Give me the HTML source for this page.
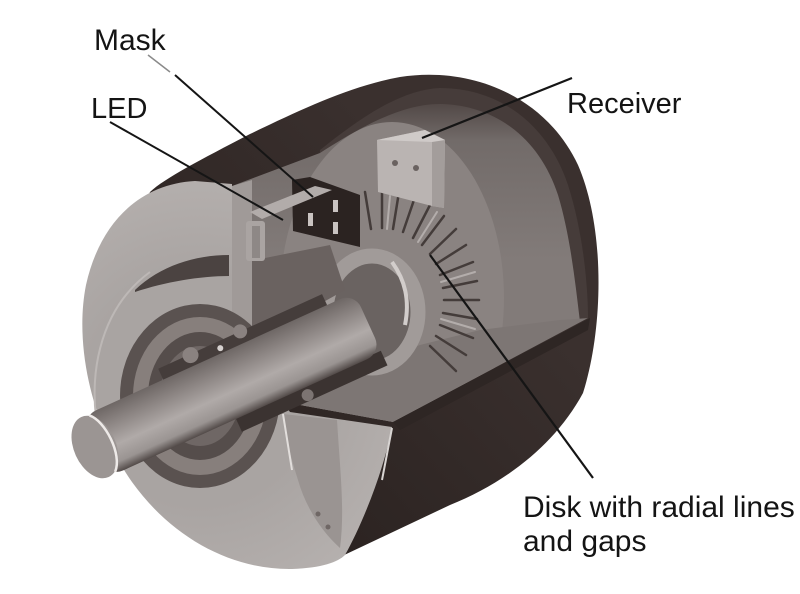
<!DOCTYPE html>
<html><head><meta charset="utf-8"><style>
html,body{margin:0;padding:0;background:#fff;}
svg{display:block;}
text{font-family:"Liberation Sans",Arial,sans-serif;fill:#141414;}
</style></head><body>
<svg width="800" height="594" viewBox="0 0 800 594" xmlns="http://www.w3.org/2000/svg">
<defs>
<linearGradient id="shaftG" x1="0" y1="-33" x2="0" y2="33" gradientUnits="userSpaceOnUse">
<stop offset="0" stop-color="#6e6765"/>
<stop offset="0.25" stop-color="#8a8381"/>
<stop offset="0.6" stop-color="#b0aaa8"/>
<stop offset="0.85" stop-color="#9a9492"/>
<stop offset="1" stop-color="#524a48"/>
</linearGradient>
<linearGradient id="intG" x1="0" y1="90" x2="0" y2="260" gradientUnits="userSpaceOnUse">
<stop offset="0" stop-color="#463c3a"/>
<stop offset="0.3" stop-color="#726b69"/>
<stop offset="1" stop-color="#827b79"/>
</linearGradient>
<radialGradient id="faceG" cx="200" cy="390" r="230" gradientUnits="userSpaceOnUse">
<stop offset="0.5" stop-color="#a9a4a2"/>
<stop offset="1" stop-color="#b6b1af"/>
</radialGradient>
<linearGradient id="shellG" x1="300" y1="560" x2="560" y2="330" gradientUnits="userSpaceOnUse">
<stop offset="0" stop-color="#2a2220"/>
<stop offset="1" stop-color="#3a302e"/>
</linearGradient>
<clipPath id="intClip">
<path d="M232,186 L320,150 C360,118 400,90 440,88 C500,88 548,125 568,185 C584,235 588,290 588,318 L393,422 L300,405 L232,330 Z"/>
</clipPath>
</defs>

<!-- dark shell -->
<path d="M150,192 C165,178 200,160 250,134 C300,110 350,86 400,77 C470,66 545,95 578,165 C606,230 603,330 583,393 C555,445 505,483 450,505 L340,557 L300,567 L200,450 L120,260 Z" fill="url(#shellG)"/>
<!-- rim band -->
<path d="M320,150 C360,118 400,90 440,88 C500,88 548,125 568,185 C584,235 588,290 588,318 L393,422 L300,405 Z" fill="#463c3a"/>
<g clip-path="url(#intClip)">
<path d="M232,186 L320,153 C365,124 405,103 442,104 C498,106 540,140 558,195 C570,235 575,280 580,322 L393,422 L300,405 L232,330 Z" fill="url(#intG)"/>
<ellipse cx="392" cy="298" rx="112" ry="176" fill="#8a8381"/>
<path d="M240,420 L300,385 L420,345 L480,330 L560,320 L590,318 L393,422 L300,412 Z" fill="#7d7674"/>
</g>
<path d="M393,422 L590,318 L588,330 L400,430 Z" fill="#2e2624"/>

<!-- radial lines -->
<g stroke="#443c3a" stroke-width="2.5" stroke-linecap="round">
<line x1="371" y1="229" x2="365" y2="192"/>
<line x1="382" y1="228" x2="382" y2="190"/>
<line x1="393" y1="229" x2="399" y2="192"/>
<line x1="403" y1="232" x2="415" y2="197"/>
<line x1="413" y1="238" x2="430" y2="205"/>
<line x1="422" y1="245" x2="444" y2="216"/>
<line x1="430" y1="254" x2="456" y2="229"/>
<line x1="436" y1="264" x2="466" y2="245"/>
<line x1="440" y1="275" x2="473" y2="262"/>
<line x1="443" y1="288" x2="477" y2="281"/>
<line x1="444" y1="300" x2="479" y2="300"/>
<line x1="443" y1="313" x2="477" y2="319"/>
<line x1="440" y1="325" x2="473" y2="338"/>
<line x1="436" y1="336" x2="466" y2="355"/>
<line x1="430" y1="346" x2="456" y2="371"/>
</g>
<g stroke="#b3adab" stroke-width="2" stroke-linecap="round">
<line x1="387" y1="229" x2="390" y2="196"/>
<line x1="418" y1="242" x2="437" y2="212"/>
<line x1="441" y1="282" x2="475" y2="272"/>
<line x1="441" y1="319" x2="475" y2="329"/>
</g>
<!-- hub ring -->
<ellipse cx="372" cy="312" rx="46" ry="56" fill="#6a6361"/>
<ellipse cx="372" cy="312" rx="46" ry="56" fill="none" stroke="#a19b99" stroke-width="15"/>
<path d="M392,262 C405,280 410,300 405,325" stroke="#d2cdcb" stroke-width="4" fill="none"/>

<!-- receiver -->
<path d="M377,140 L425,130 L445,140 L444,208 L432,206 L378,192 Z" fill="#bab4b2"/>
<path d="M432,137 L445,140 L444,208 L432,206 Z" fill="#a39d9b"/>
<path d="M377,140 L425,130 L445,140 L432,142 Z" fill="#cfcac8"/>
<circle cx="395" cy="163" r="3" fill="#6a6260"/>
<circle cx="416" cy="168" r="3" fill="#6a6260"/>

<!-- cut area parts -->
<path d="M245,262 L330,245 L345,290 L300,315 L250,338 Z" fill="#6a6260"/>
<path d="M232,186 L252,180 L252,330 L232,330 Z" fill="#a09a98"/>

<!-- mask -->
<path d="M292,180 L310,177 L360,195 L360,247 L293,231 Z" fill="#2b2321"/>
<path d="M250,212 L315,186 L332,190 L262,219 Z" fill="#b2acaa"/>
<rect x="333" y="200" width="5" height="12" fill="#c9c3c1"/>
<rect x="308" y="213" width="5" height="13" fill="#c9c3c1"/>
<rect x="333" y="222" width="5" height="12" fill="#c9c3c1"/>
<!-- LED -->
<rect x="246" y="221" width="19" height="40" rx="3" fill="#aaa4a2"/>
<rect x="252" y="226" width="8" height="32" fill="#8e8886"/>

<!-- front face -->
<path d="M232,184 L195,181 C140,184 100,222 86,285 C74,345 92,425 132,482 C172,538 232,570 292,569 C322,568 338,562 345,555 C362,525 384,470 392,427 L290,412 L232,330 Z" fill="url(#faceG)"/>
<path d="M283,414 L337,420 C340,470 345,510 340,548 C320,530 305,505 298,480 C290,455 285,435 283,414 Z" fill="#9a9492"/>
<line x1="283" y1="414" x2="292" y2="470" stroke="#e2dedc" stroke-width="2"/>
<line x1="392" y1="428" x2="382" y2="480" stroke="#d8d4d2" stroke-width="2"/>
<circle cx="318" cy="514" r="2.5" fill="#6f6765"/>
<circle cx="328" cy="527" r="2.5" fill="#6f6765"/>
<path d="M100,440 C86,380 98,310 150,272" fill="none" stroke="#bdb8b6" stroke-width="2"/>
<path d="M135,290 C160,266 195,255 229,255 L229,276 C200,276 165,282 135,292 Z" fill="#4b4341"/>
<ellipse cx="200" cy="396" rx="80" ry="92" fill="#5a5250"/>
<ellipse cx="200" cy="396" rx="67" ry="79" fill="#877f7c"/>
<ellipse cx="200" cy="396" rx="52" ry="64" fill="#554d4b"/>
<ellipse cx="200" cy="396" rx="40" ry="50" fill="#6f6765"/>

<!-- shaft with bearing strips -->
<g transform="translate(95,447) rotate(-24.5)">
<rect x="90" y="-45" width="180" height="13" fill="#453d3b"/>
<circle cx="125" cy="-44" r="8" fill="#8a8280"/>
<circle cx="180" cy="-45" r="7" fill="#8a8280"/>
<circle cx="155" cy="-38" r="3" fill="#d6d1cf"/>
<rect x="140" y="31" width="160" height="16" fill="#3b3331"/>
<circle cx="215" cy="41" r="6" fill="#7c7472"/>
<rect x="0" y="-33" width="300" height="66" rx="16" fill="url(#shaftG)"/>
<ellipse cx="0" cy="0" rx="21" ry="33" fill="#9b9593"/>
<path d="M8,-31 C20,-20 22,18 8,31" stroke="#eeeae8" stroke-width="2.5" fill="none"/>
</g>

<!-- leader lines -->
<line x1="148" y1="55" x2="170" y2="72" stroke="#8a8a8a" stroke-width="1.5"/>
<line x1="175" y1="75" x2="313" y2="197" stroke="#151515" stroke-width="2"/>
<line x1="110" y1="122" x2="283" y2="220" stroke="#151515" stroke-width="2"/>
<line x1="572" y1="78" x2="422" y2="138" stroke="#151515" stroke-width="2.2"/>
<line x1="430" y1="255" x2="593" y2="478" stroke="#151515" stroke-width="2.2"/>

<!-- labels -->
<text x="94" y="50" font-size="30">Mask</text>
<text x="91" y="118" font-size="29">LED</text>
<text x="567" y="113" font-size="29">Receiver</text>
<text x="523" y="517" font-size="30">Disk with radial lines</text>
<text x="523" y="551" font-size="30">and gaps</text>
</svg>
</body></html>
